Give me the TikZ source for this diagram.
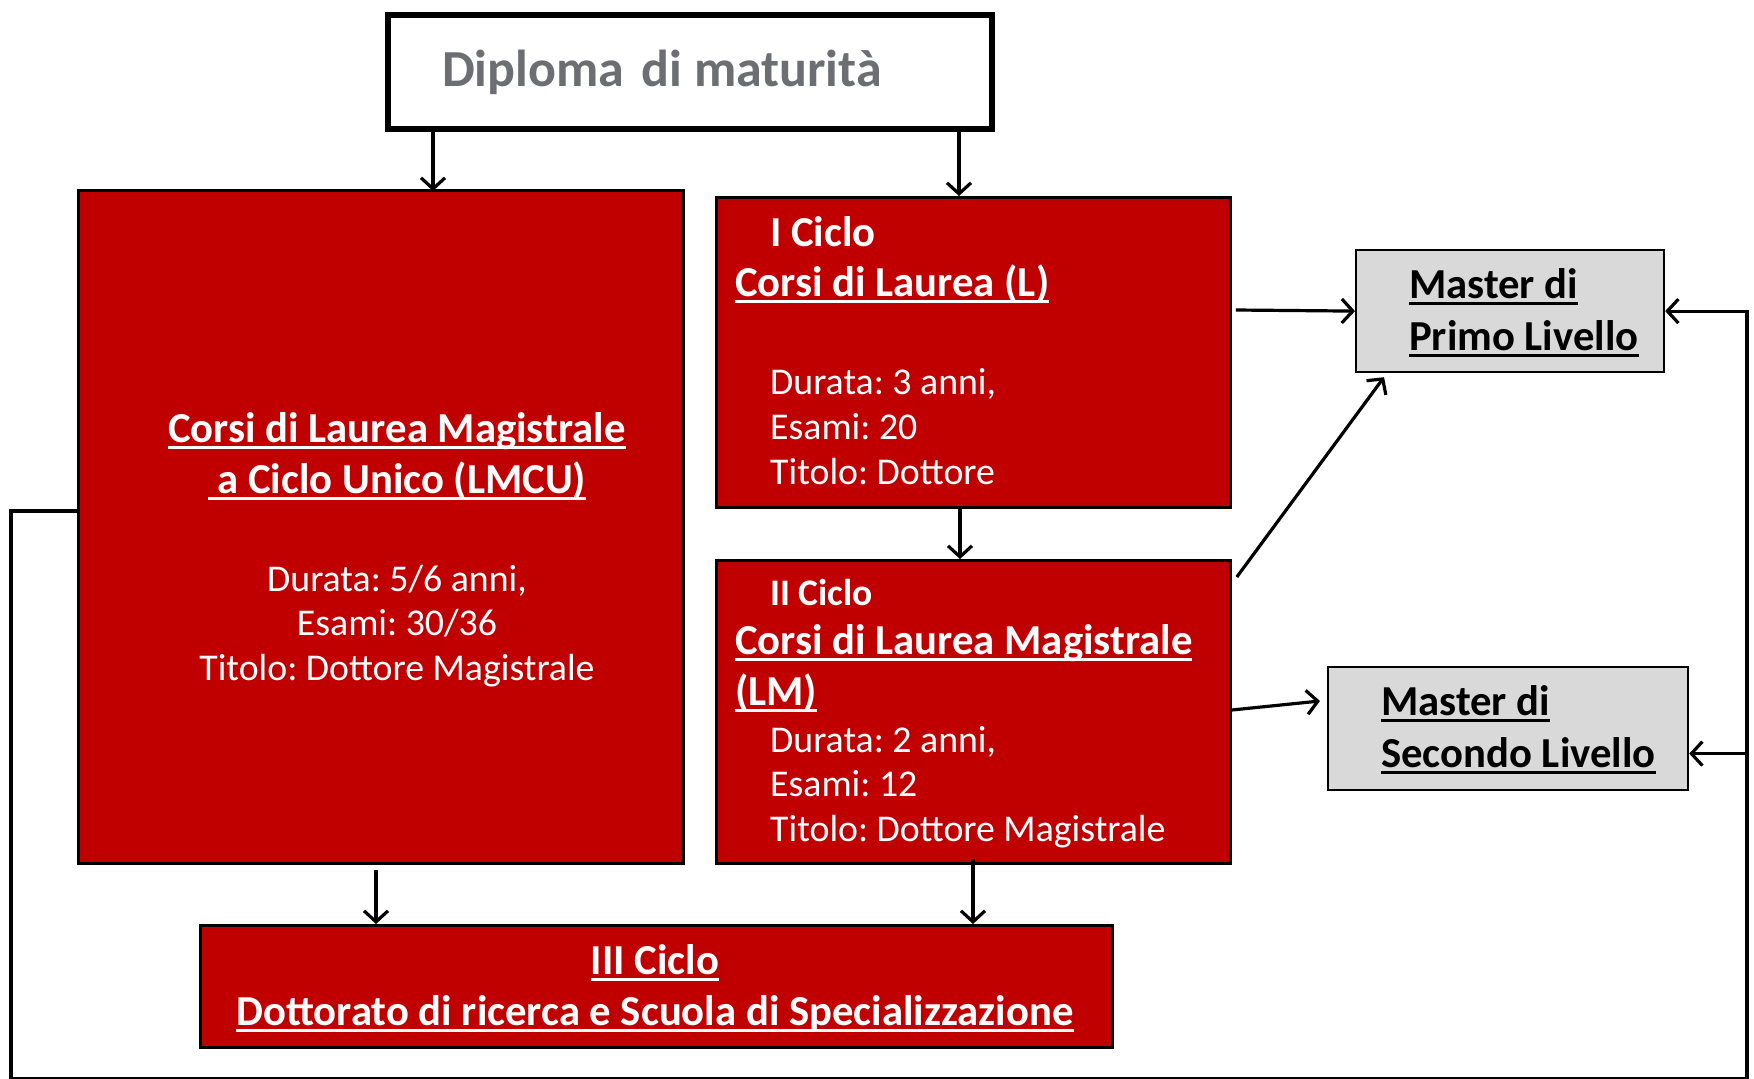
\documentclass[tikz,border=0pt]{standalone}
\usepackage{fontspec}
\setmainfont{Carlito}
\usetikzlibrary{arrows.meta}
\definecolor{boxred}{HTML}{C00000}
\definecolor{boxgray}{HTML}{D9D9D9}
\definecolor{diptext}{HTML}{6D6E71}
\newcommand\myul[1]{\setbox0\hbox{#1}\rlap{\rule[-7pt]{\wd0}{2.8pt}}\box0}
\frenchspacing
\begin{document}
\begin{tikzpicture}[x=1pt,y=-1pt,
  redbox/.style={draw=black, line width=2.8pt, fill=boxred, anchor=north west, inner sep=0pt},
  graybox/.style={draw=black, line width=2.2pt, fill=boxgray, anchor=north west, inner sep=0pt},
  conn/.style={line width=3.2pt, -{Straight Barb[length=11pt,width=24pt,line width=3.2pt]}},
  titletext/.style={font=\fontsize{42.7}{50}\selectfont\bfseries, text=white, inner sep=0pt},
  smalltitle/.style={font=\fontsize{37.5}{45}\selectfont\bfseries, text=white, inner sep=0pt},
  bodytext/.style={font=\fontsize{37.8}{45}\selectfont, text=white, inner sep=0pt},
  mastertext/.style={font=\fontsize{42.7}{50}\selectfont\bfseries, text=black, inner sep=0pt, anchor=base west},
]
\useasboundingbox (0,0) rectangle (1754,1079);
\fill[white] (0,0) rectangle (1754,1079);

% boxes
\node[draw=black, line width=5.5pt, fill=white, anchor=north west, inner sep=0pt,
      minimum width=604pt, minimum height=114pt] (dip) at (385,12) {};
\node[redbox, minimum width=605pt, minimum height=673pt] (lmcu) at (77,189) {};
\node[redbox, minimum width=514pt, minimum height=310pt] (lone) at (715,196) {};
\node[redbox, minimum width=514pt, minimum height=303pt] (ltwo) at (715,559) {};
\node[redbox, minimum width=912pt, minimum height=122pt] (dott) at (199,924) {};
\node[graybox, minimum width=308pt, minimum height=122pt] (mp1) at (1355,249) {};
\node[graybox, minimum width=360pt, minimum height=123pt] (mp2) at (1327,666) {};

% texts
\node[font=\fontsize{52}{60}\selectfont\bfseries, text=diptext, inner sep=0pt, anchor=base west]
  (diptxt) at (442,86) {Diploma\hspace{0.33em}di maturità};

\node[titletext, anchor=base] (lmcu1) at (397,442) {\myul{Corsi di Laurea Magistrale}};
\node[titletext, anchor=base] (lmcu2) at (397,493) {\myul{\ a Ciclo Unico (LMCU)}};
\node[bodytext, anchor=base] (lmcu3) at (397,591) {Durata: 5/6 anni,};
\node[bodytext, anchor=base] (lmcu4) at (397,635) {Esami: 30/36};
\node[bodytext, anchor=base] (lmcu5) at (397,680) {Titolo: Dottore Magistrale};

\node[titletext, anchor=base west] (lone1) at (770,246) {I Ciclo};
\node[titletext, anchor=base west] (lone2) at (735,296) {\myul{Corsi di Laurea (L)}};
\node[bodytext, anchor=base west] (lone3) at (770,394) {Durata: 3 anni,};
\node[bodytext, anchor=base west] (lone4) at (770,439) {Esami: 20};
\node[bodytext, anchor=base west] (lone5) at (770,484) {Titolo: Dottore};

\node[smalltitle, anchor=base west] (ltwo1) at (770,605) {II Ciclo};
\node[titletext, anchor=base west] (ltwo2) at (735,654) {\myul{Corsi di Laurea Magistrale}};
\node[titletext, anchor=base west] (ltwo3) at (735,705) {\myul{(LM)}};
\node[bodytext, anchor=base west] (ltwo4) at (770,752) {Durata: 2 anni,};
\node[bodytext, anchor=base west] (ltwo5) at (770,796) {Esami: 12};
\node[bodytext, anchor=base west] (ltwo6) at (770,841) {Titolo: Dottore Magistrale};

\node[titletext, anchor=base] (dott1) at (655,974) {\myul{III Ciclo}};
\node[titletext, anchor=base] (dott2) at (655,1025) {\myul{Dottorato di ricerca e Scuola di Specializzazione}};

\node[mastertext] (mp1a) at (1409,298) {\myul{Master di}};
\node[mastertext] (mp1b) at (1409,350) {\myul{Primo Livello}};
\node[mastertext] (mp2a) at (1381,715) {\myul{Master di}};
\node[mastertext] (mp2b) at (1381,767) {\myul{Secondo Livello}};

% connectors
\draw[conn] ([xshift=48pt]dip.south west) -- ([xshift=356pt,yshift=-2pt]lmcu.north west);
\draw[conn] ([xshift=574pt]dip.south west) -- ([xshift=244pt]lone.north west);
\draw[conn] ([xshift=245pt]lone.south west) -- ([xshift=245pt]ltwo.north west);
\draw[conn] ([xshift=4pt,yshift=-114pt]lone.north east) -- (mp1.west);
\draw[conn] ([xshift=5pt,yshift=-18pt]ltwo.north east) -- ([xshift=29pt,yshift=-4pt]mp1.south west);
\draw[conn] ([yshift=-151pt]ltwo.north east) -- ([xshift=-7pt,yshift=-35pt]mp2.north west);
\draw[conn] ([xshift=299pt,yshift=-5pt]lmcu.south west) -- ([xshift=177pt]dott.north west);
\draw[conn] ([xshift=258pt,yshift=6pt]ltwo.south west) -- ([xshift=774pt]dott.north west);
\draw[conn] ([yshift=16pt]lmcu.west) -- ++(-66,0) -- ++(0,568) -- ++(1736,0) |- (mp1.east);
\draw[conn] ([xshift=60pt,yshift=-25pt]mp2.east) -- ([yshift=-25pt]mp2.east);
\end{tikzpicture}
\end{document}
